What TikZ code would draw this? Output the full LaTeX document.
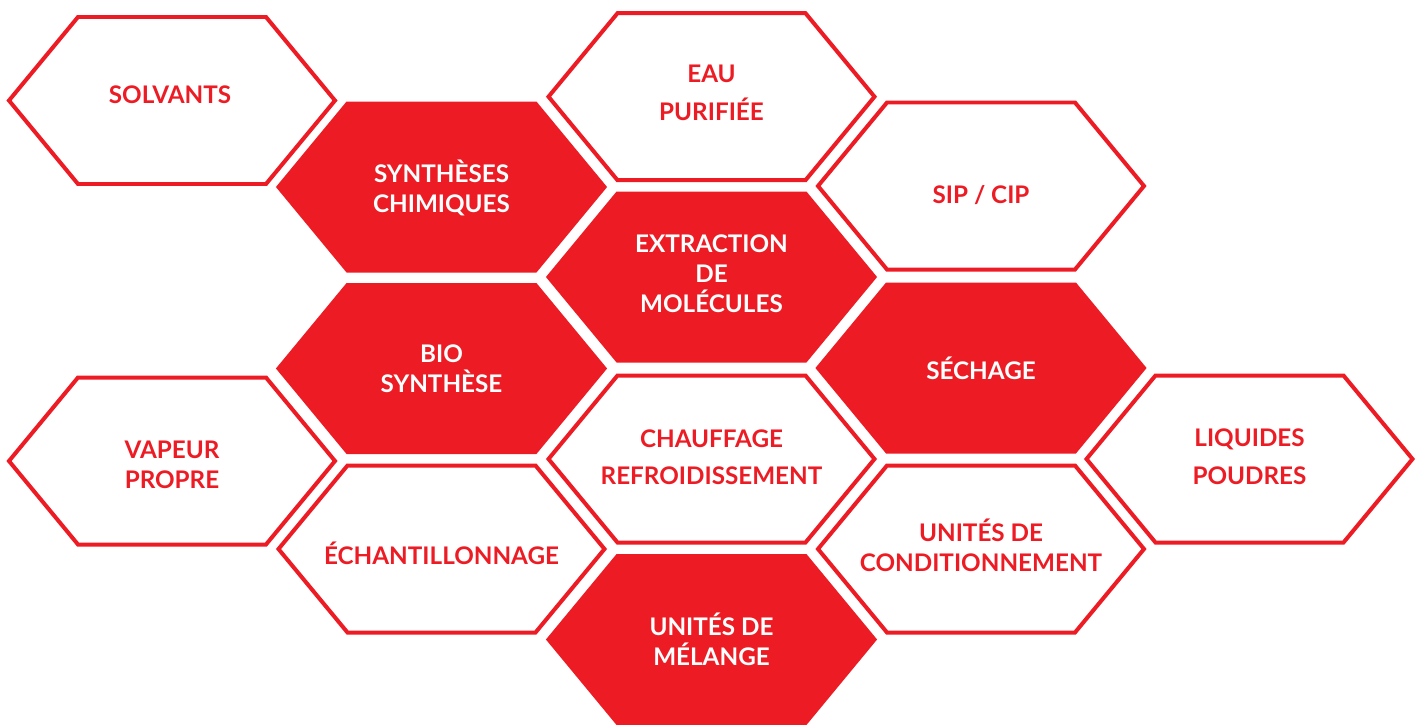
\documentclass[tikz,border=0pt]{standalone}
\usepackage{fontspec}
\setmainfont{Lato}
\definecolor{hexred}{RGB}{237,28,36}
\tikzstyle{hexw}=[draw=hexred, line width=2.27pt, fill=white]
\tikzstyle{hexr}=[draw=hexred, line width=2.27pt, fill=hexred]
\tikzstyle{tred}=[text=hexred, font=\fontsize{13.8}{17}\selectfont\bfseries, align=center, inner sep=0pt, execute at begin node={\vphantom{É}}, execute at end node={\vphantom{Q}}]
\tikzstyle{twhite}=[tred, text=white]
% hexagon with flat top, centre (#2,#3)
\newcommand{\hexcell}[3]{\draw[#1] (#2,#3) ++(-163,0) -- ++(69,-83.5) -- ++(188,0) -- ++(69,83.5) -- ++(-69,83.5) -- ++(-188,0) -- cycle;}
\begin{document}
\begin{tikzpicture}[x=0.02cm, y=-0.02cm]
\useasboundingbox (0,0) rectangle (1420,724);
\clip (0,0) rectangle (1420,724);

% first column
\hexcell{hexw}{172}{100.5}
\node[tred] (solvants) at (170,94.3) {SOLVANTS};
\hexcell{hexw}{172}{461}
\node[tred] (vapeur) at (172,466.7) {VAPEUR\\PROPRE};

% second column
\hexcell{hexr}{441.5}{187}
\node[twhite] (synth) at (441.5,187.5) {SYNTHÈSES\\CHIMIQUES};
\hexcell{hexr}{441.5}{368.5}
\node[twhite] (bio) at (441.5,370) {BIO\\SYNTHÈSE};
\hexcell{hexw}{441.5}{549}
\node[tred] (echant) at (441.5,554.5) {ÉCHANTILLONNAGE};

% third column
\hexcell{hexw}{711.5}{96.7}
\node[tred] (eau) at (711.5,94.7) {EAU\\[4.5pt]PURIFIÉE};
\hexcell{hexr}{711.5}{277}
\node[twhite] (extract) at (711.5,275.3) {EXTRACTION\\DE\\MOLÉCULES};
\hexcell{hexw}{711.5}{459}
\node[tred] (chauff) at (711.5,458.8) {CHAUFFAGE\\[4.5pt]REFROIDISSEMENT};
\hexcell{hexr}{711.5}{639.5}
\node[twhite] (melange) at (711.5,640.8) {UNITÉS DE\\MÉLANGE};

% fourth column
\hexcell{hexw}{981}{186}
\node[tred] (sipcip) at (981,194) {SIP / CIP};
\hexcell{hexr}{981}{368}
\node[twhite] (sechage) at (981,370.3) {SÉCHAGE};
\hexcell{hexw}{981}{549}
\node[tred] (condit) at (981,547) {UNITÉS DE\\CONDITIONNEMENT};

% fifth column
\hexcell{hexw}{1249.5}{459}
\node[tred] (liquides) at (1249.5,458.3) {LIQUIDES\\[4.5pt]POUDRES};

\end{tikzpicture}
\end{document}
